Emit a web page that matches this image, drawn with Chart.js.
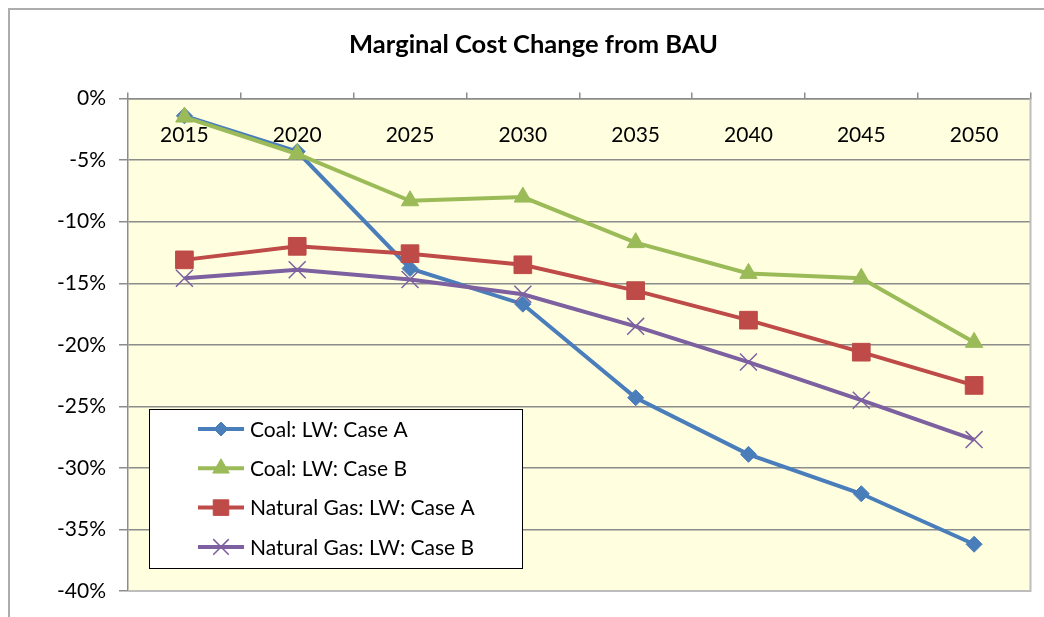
<!DOCTYPE html>
<html>
<head>
<meta charset="utf-8">
<script src="https://cdn.jsdelivr.net/npm/chart.js@4/dist/chart.umd.min.js"></script>
<style>
  html, body { margin: 0; padding: 0; background: #ffffff; }
  #wrap { position: relative; width: 1044px; height: 617px; overflow: hidden; }
  #frame { position: absolute; left: 8px; top: 8px; width: 1100px; height: 700px;
           border-left: 2px solid #ADADAD; border-top: 2px solid #ADADAD; pointer-events: none; }
  canvas { position: absolute; left: 0; top: 0; }
</style>
</head>
<body>
<div id="wrap">
  <canvas id="c" width="1044" height="617"></canvas>
  <div id="frame"></div>
</div>
<script>
// ---- data ----
const years = ['2015', '2020', '2025', '2030', '2035', '2040', '2045', '2050'];
const coalCaseA = [-1.4, -4.3, -13.8, -16.7, -24.3, -28.9, -32.1, -36.2];
const coalCaseB = [-1.5, -4.5, -8.3, -8.0, -11.7, -14.2, -14.6, -19.8];
const gasCaseA = [-13.1, -12.0, -12.6, -13.5, -15.6, -18.0, -20.6, -23.3];
const gasCaseB = [-14.6, -13.9, -14.7, -15.9, -18.5, -21.4, -24.5, -27.7];
const seriesNames = ['Coal: LW: Case A', 'Coal: LW: Case B', 'Natural Gas: LW: Case A', 'Natural Gas: LW: Case B'];
const yTicks = [0, -5, -10, -15, -20, -25, -30, -35, -40];
const chartTitle = 'Marginal Cost Change from BAU';

// ---- styles ----
const FONT = 'Lato, "Open Sans", "Liberation Sans", sans-serif';
const GRID = '#8C8C8C';
const colors = ['#4A7EBB', '#9BBB59', '#BE4B48', '#7D60A0'];
const styles = [
  { pointStyle: 'rectRot', pointRadius: 8, pointBorderWidth: 1, legendRadius: 7 },
  { pointStyle: 'triangle', pointRadius: 10, pointBorderWidth: 1, legendRadius: 9.5 },
  { pointStyle: 'rect', pointRadius: 12.5, pointBorderWidth: 1, legendRadius: 11 },
  { pointStyle: 'crossRot', pointRadius: 12, pointBorderWidth: 1.5, legendRadius: 11 }
];
const values = [coalCaseA, coalCaseB, gasCaseA, gasCaseB];

const datasets = values.map((v, i) => ({
  label: seriesNames[i],
  data: v,
  borderColor: colors[i],
  backgroundColor: colors[i],
  pointBackgroundColor: colors[i],
  pointBorderColor: colors[i],
  borderWidth: 4,
  tension: 0,
  order: 4 - i,
  pointStyle: styles[i].pointStyle,
  pointRadius: styles[i].pointRadius,
  pointHoverRadius: styles[i].pointRadius,
  pointBorderWidth: styles[i].pointBorderWidth,
  legendRadius: styles[i].legendRadius
}));

const plotBackground = {
  id: 'plotBackground',
  beforeDraw(chart) {
    const { ctx, chartArea: a } = chart;
    ctx.save();
    ctx.fillStyle = '#FFFFE0';
    ctx.fillRect(a.left, a.top, a.right - a.left, a.bottom - a.top);
    ctx.restore();
  },
  afterDraw(chart) {
    const { ctx, chartArea: a } = chart;
    ctx.save();
    ctx.strokeStyle = '#BDBDBD';
    ctx.lineWidth = 2;
    ctx.beginPath();
    ctx.moveTo(a.left, a.bottom);
    ctx.lineTo(a.right, a.bottom);
    ctx.lineTo(a.right, a.top);
    ctx.stroke();
    ctx.restore();
  }
};

const boxLegend = {
  id: 'boxLegend',
  afterDatasetsDraw(chart) {
    const { ctx, chartArea: a } = chart;
    const bx = a.left + 21, bw = 373, bh = 159;
    const by = a.bottom - 23 - bh;
    ctx.save();
    ctx.fillStyle = '#FFFFFF';
    ctx.fillRect(bx, by, bw, bh);
    ctx.strokeStyle = '#000000';
    ctx.lineWidth = 1;
    ctx.strokeRect(bx + 0.5, by + 0.5, bw, bh);
    chart.data.datasets.forEach((ds, i) => {
      const y = by + 20 + i * 39.3;
      const x0 = bx + 49, x1 = bx + 95;
      ctx.strokeStyle = ds.borderColor;
      ctx.lineWidth = 4;
      ctx.beginPath();
      ctx.moveTo(x0, y);
      ctx.lineTo(x1, y);
      ctx.stroke();
      ctx.fillStyle = ds.pointBackgroundColor;
      ctx.strokeStyle = ds.pointBorderColor;
      ctx.lineWidth = ds.pointBorderWidth;
      Chart.helpers.drawPoint(ctx, {
        pointStyle: ds.pointStyle,
        radius: ds.legendRadius,
        rotation: 0,
        borderWidth: ds.pointBorderWidth
      }, (x0 + x1) / 2, y);
      ctx.fillStyle = '#000000';
      ctx.font = '21px ' + FONT;
      ctx.textBaseline = 'middle';
      ctx.textAlign = 'left';
      ctx.fillText(ds.label, x1 + 6, y + 1);
    });
    ctx.restore();
  }
};

new Chart(document.getElementById('c'), {
  type: 'line',
  data: { labels: years, datasets },
  plugins: [plotBackground, boxLegend],
  options: {
    responsive: false,
    animation: false,
    layout: { padding: { left: 34, right: 11, top: 0, bottom: 26 } },
    plugins: {
      legend: { display: false },
      tooltip: { enabled: false },
      title: {
        display: true,
        text: chartTitle,
        color: '#000000',
        font: { family: FONT, size: 25.5, weight: 'bold', lineHeight: 1.2 },
        padding: { top: 29, bottom: 33 }
      }
    },
    scales: {
      x: {
        position: 'top',
        offset: true,
        afterFit(scale) { scale.height = 6; },
        grid: { display: true, drawOnChartArea: false, drawTicks: true, tickLength: 6, color: GRID, lineWidth: 1.5, offset: true },
        border: { display: true, color: GRID, width: 1.5 },
        ticks: {
          color: '#000000',
          font: { family: FONT, size: 21, lineHeight: 1.2 },
          mirror: true,
          padding: 24,
          maxRotation: 0,
          autoSkip: false
        }
      },
      y: {
        min: -40,
        max: 0,
        afterFit(scale) { scale.width = 94; },
        afterBuildTicks(scale) { scale.ticks = yTicks.map(v => ({ value: v })); },
        grid: {
          color: (c) => (c.tick && c.tick.value === -40) ? 'rgba(0,0,0,0)' : GRID,
          tickColor: GRID,
          lineWidth: 1.5,
          tickLength: 9
        },
        border: { display: true, color: GRID, width: 1.5 },
        ticks: {
          color: '#000000',
          font: { family: FONT, size: 21 },
          padding: 13,
          callback: (v) => v + '%'
        }
      }
    }
  }
});
</script>
</body>
</html>
